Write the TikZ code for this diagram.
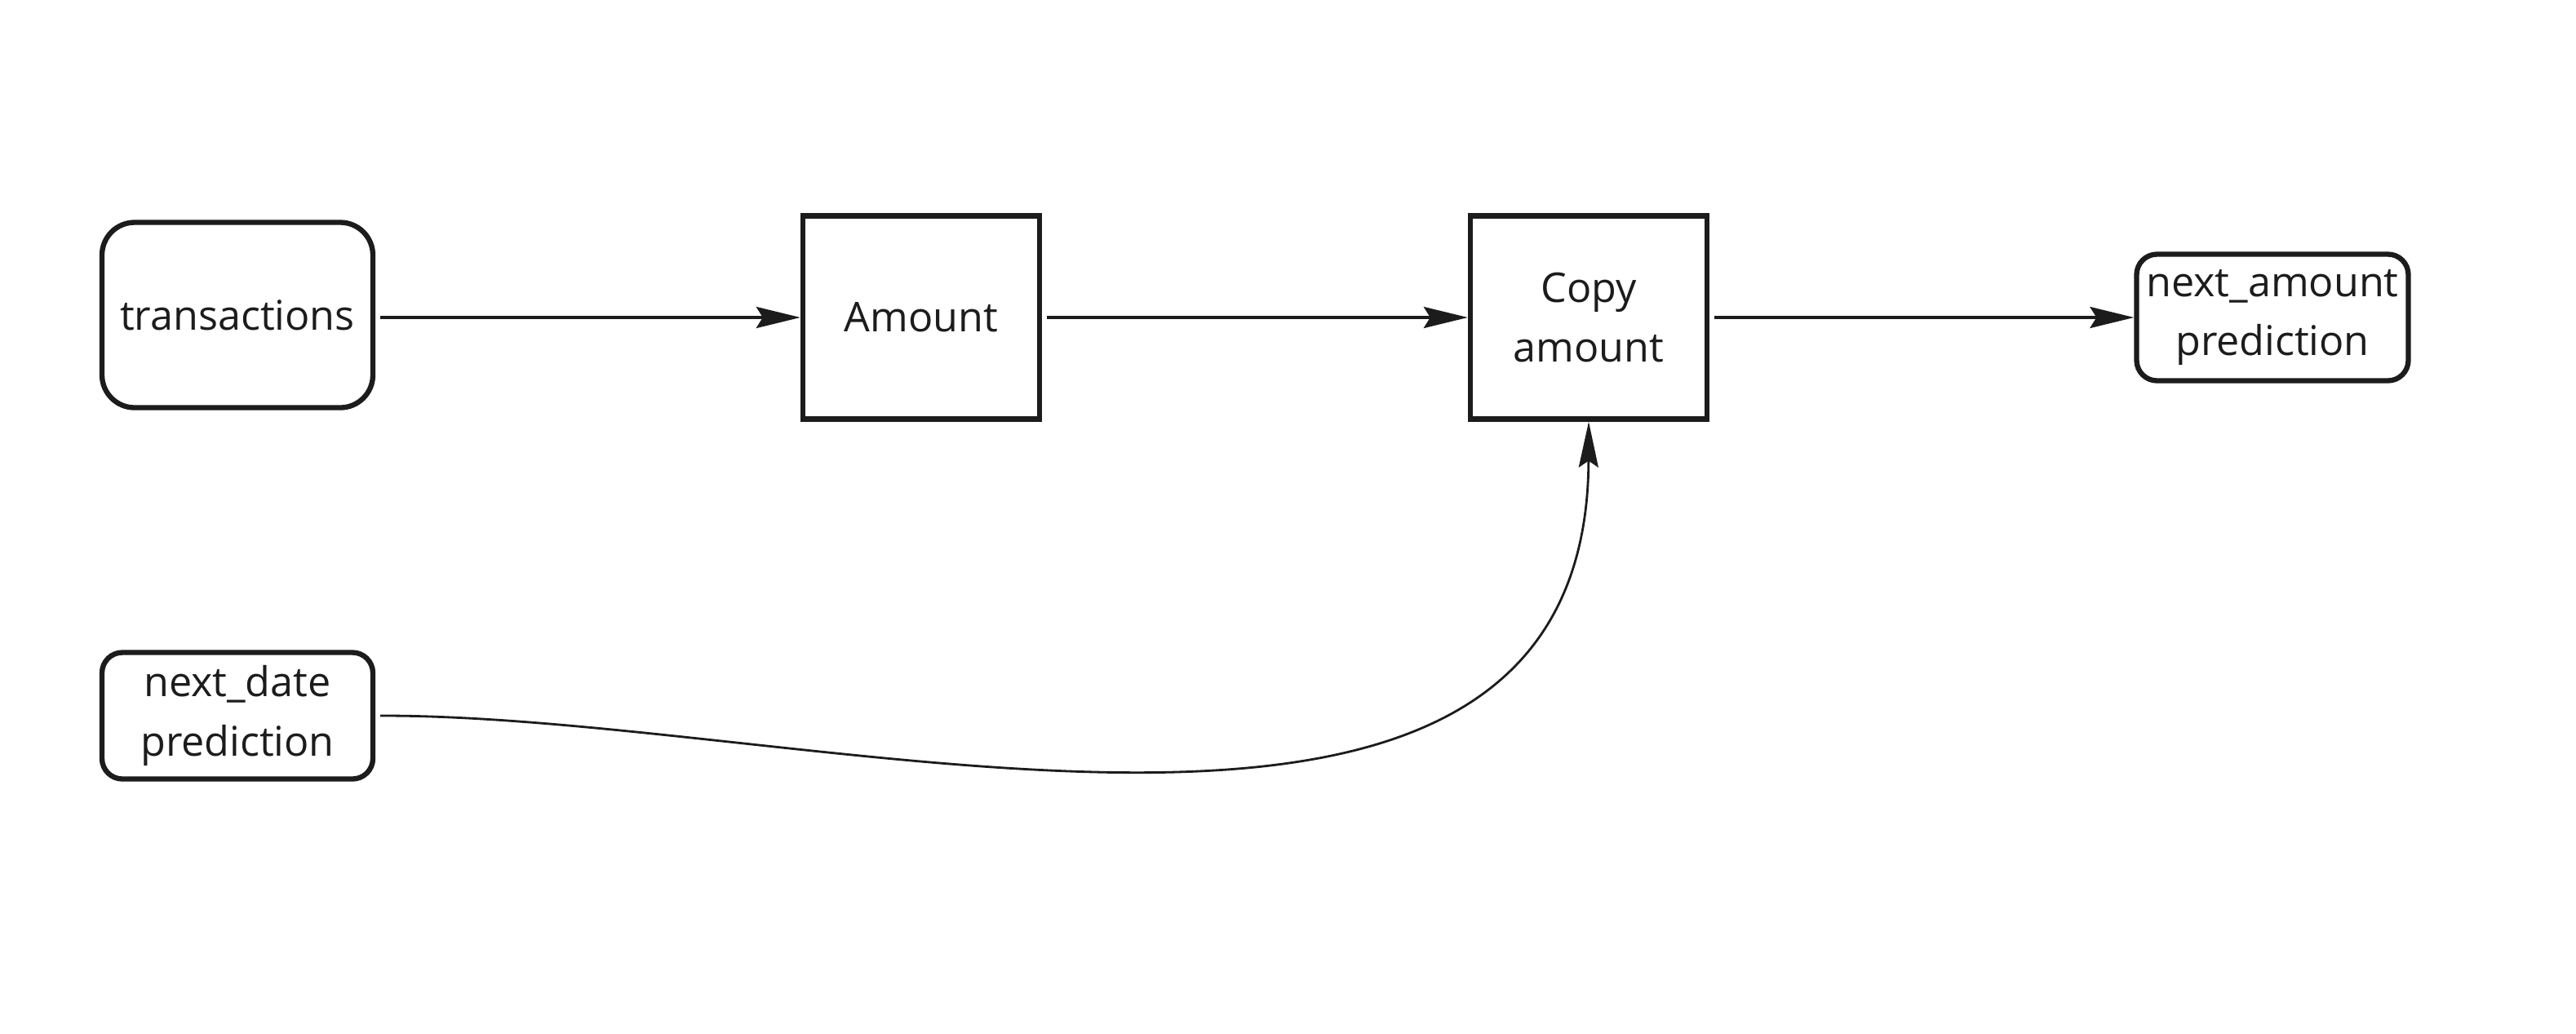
\documentclass[tikz,border=0pt]{standalone}
\usepackage{fontspec}
\setmainfont{Open Sans}
\usetikzlibrary{arrows.meta}

\definecolor{inkgray}{HTML}{1C1C1C}

\tikzset{
  terminal/.style={draw=inkgray, line width=1.8pt, rounded corners=0.4cm,
    align=center, inner sep=0pt, text=inkgray},
  process/.style={draw=inkgray, line width=1.8pt, align=center,
    inner sep=0pt, text=inkgray, minimum width=2.9cm, minimum height=2.49cm},
  flow/.style={draw=inkgray, line width=1pt,
    -{Stealth[length=0.54cm, width=0.26cm, inset=0.08cm]}, shorten <=0.06cm}
}

\begin{document}
\begin{tikzpicture}[font=\fontsize{14.3}{20.6}\selectfont]

% Fix the page size
\useasboundingbox (0,0) rectangle (31.57,-12.66);

% Define nodes
\node[terminal, minimum width=3.32cm, minimum height=2.27cm] (trans) at (2.91,-3.86) {transactions};
\node[process] (amount) at (11.29,-3.89) {Amount};
\node[process] (copy) at (19.47,-3.89) {Copy\\amount};
\node[terminal, rounded corners=0.25cm, minimum width=3.33cm, minimum height=1.55cm] (nextamt) at (27.85,-3.89) {next\_amount\\prediction};
\node[terminal, rounded corners=0.25cm, minimum width=3.32cm, minimum height=1.55cm] (nextdate) at (2.91,-8.77) {next\_date\\prediction};

% Draw main row
\draw[flow] (trans.east |- amount) -- (amount);
\draw[flow] (amount) -- (copy);
\draw[flow] (copy) -- (nextamt);

% Draw curved input into Copy amount
\draw[flow, line width=0.8pt, -{Stealth[length=0.56cm, width=0.24cm, inset=0.08cm]}]
  (nextdate.east) .. controls (10.1,-8.76) and (19.45,-11.68) .. (copy.south);

\end{tikzpicture}
\end{document}
